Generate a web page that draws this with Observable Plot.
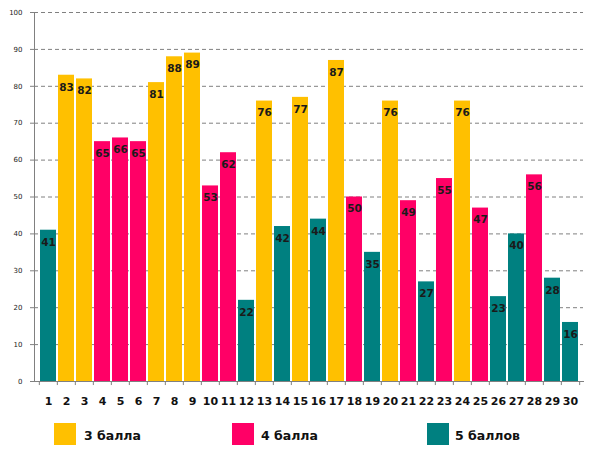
<!DOCTYPE html>
<html>
<head>
<meta charset="utf-8">
<script src="https://cdn.jsdelivr.net/npm/d3@7"></script>
<script src="https://cdn.jsdelivr.net/npm/@observablehq/plot@0.6"></script>
<style>
  body { margin: 0; background: #fff; font-family: "DejaVu Sans", sans-serif; }
  #wrap { position: relative; width: 590px; height: 457px; }
  .key { position: absolute; top: 423px; width: 22px; height: 22px; }
  .lbl { position: absolute; top: 428px; font-weight: bold; font-size: 12.5px; color: #111; }
</style>
</head>
<body>
<div id="wrap">
  <div id="plot"></div>
  <div class="key" style="left:54px;background:#FFC000"></div><div class="lbl" style="left:84px">3 балла</div>
  <div class="key" style="left:232px;background:#FF0066"></div><div class="lbl" style="left:261px">4 балла</div>
  <div class="key" style="left:427px;background:#008080"></div><div class="lbl" style="left:455px">5 баллов</div>
</div>
<script>
// one bar per item, coloured by grade
const days = d3.range(1, 31);
const values = [41, 83, 82, 65, 66, 65, 81, 88, 89, 53, 62, 22, 76, 42, 77,
                44, 87, 50, 35, 76, 49, 27, 55, 76, 47, 23, 40, 56, 28, 16];
const grades = ["5 баллов", "3 балла", "3 балла", "4 балла", "4 балла", "4 балла",
                "3 балла", "3 балла", "3 балла", "4 балла", "4 балла", "5 баллов",
                "3 балла", "5 баллов", "3 балла", "5 баллов", "3 балла", "4 балла",
                "5 баллов", "3 балла", "4 балла", "5 баллов", "4 балла", "3 балла",
                "4 балла", "5 баллов", "5 баллов", "4 балла", "5 баллов", "5 баллов"];
const gradeNames = ["3 балла", "4 балла", "5 баллов"];
const gradeColors = ["#FFC000", "#FF0066", "#008080"];
const yTicks = d3.range(0, 101, 10);

const data = days.map((d, i) => ({day: d, value: values[i], grade: grades[i]}));

const marginLeft = 34, marginRight = 7, width = 590;
const padIn = 0.13, padOut = 0.05;
const step = (width - marginLeft - marginRight) / (days.length - padIn + 2 * padOut);

const plot = Plot.plot({
  width,
  height: 416,
  marginTop: 12,
  marginLeft,
  marginRight,
  marginBottom: 35,
  style: { fontFamily: "DejaVu Sans, sans-serif", background: "#fff" },
  x: { type: "band", domain: days, paddingInner: padIn, paddingOuter: padOut, label: null },
  y: { domain: [0, 100], label: null },
  color: { domain: gradeNames, range: gradeColors },
  marks: [
    Plot.gridY(yTicks.filter(t => t > 0), { stroke: "#808080", strokeOpacity: 1, strokeDasharray: "4,3" }),
    Plot.barY(data, { x: "day", y: "value", fill: "grade" }),
    Plot.text(data, {
      x: "day", y: "value", text: "value", dy: 12,
      fontWeight: "bold", fontSize: 10.5, fill: "#1a1a1a"
    }),
    Plot.frame({ anchor: "left", stroke: "#808080" }),
    Plot.frame({ anchor: "bottom", stroke: "#808080" }),
    // ticks between categories on the x axis
    Plot.ruleX(days, { x: d => d, dx: -step / 2, y1: 0, y2: -1.1, stroke: "#808080" }),
    Plot.ruleX([days[days.length - 1]], { x: d => d, dx: step / 2, y1: 0, y2: -1.1, stroke: "#808080" }),
    Plot.axisY(yTicks, { tickSize: 4, tickPadding: 8, fontSize: 7, stroke: "#808080", fill: "#222" }),
    Plot.axisX({ tickSize: 0, tickPadding: 16, fontSize: 11, fontWeight: "bold", fill: "#111" })
  ]
});

document.getElementById("plot").appendChild(plot);
</script>
</body>
</html>
